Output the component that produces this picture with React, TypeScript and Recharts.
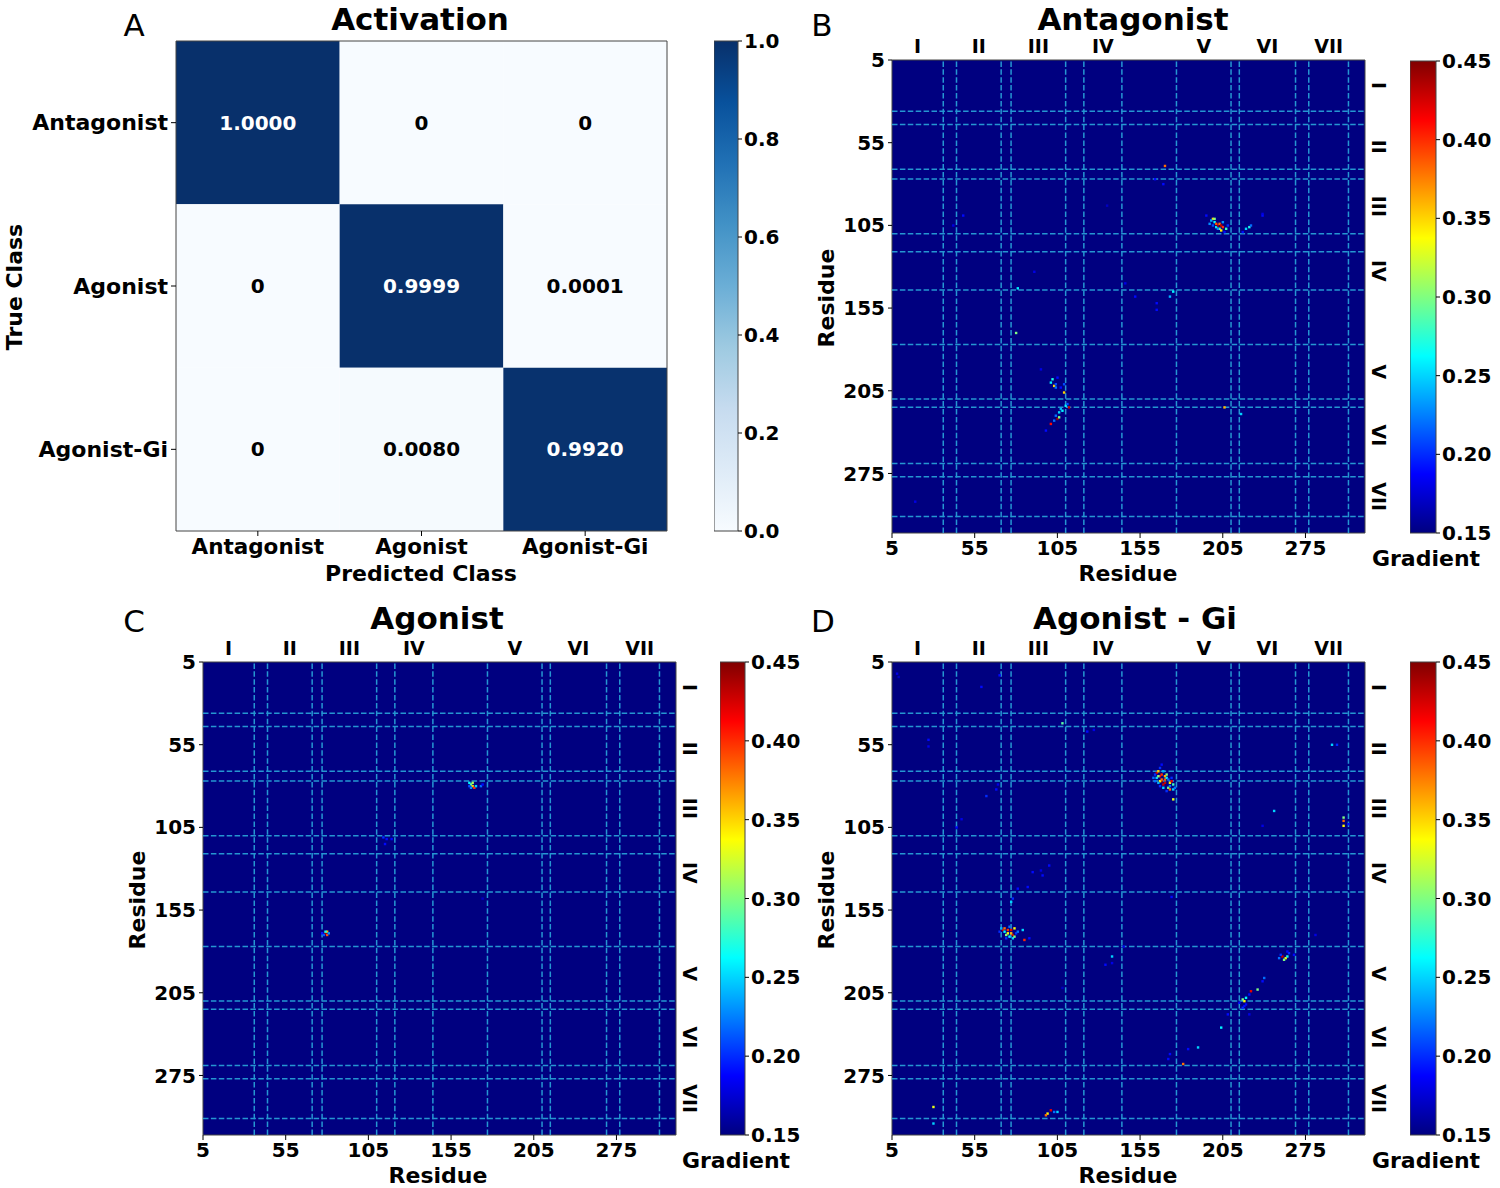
import React from 'react';
import { ComposedChart, XAxis, YAxis, ReferenceArea, ReferenceLine, Scatter } from 'recharts';

const FONT = "'DejaVu Sans', 'Liberation Sans', sans-serif";

// ---------- Panel A: confusion matrix ----------
const cmClasses = ['Antagonist', 'Agonist', 'Agonist-Gi'];
const cmRowAntagonist = [1.0, 0, 0];
const cmRowAgonist = [0, 0.9999, 0.0001];
const cmRowAgonistGi = [0, 0.008, 0.992];
const cmTicks = [0, 1, 2];
const cmBarTicks = [0, 0.2, 0.4, 0.6, 0.8, 1.0];

// ---------- Panels B-D: gradient maps ----------
const residueTicks = [0, 50, 100, 150, 200, 250];
const residueTickLabels = ['5', '55', '105', '155', '205', '275'];
const helixBoundaries = [31, 39, 66, 72, 105, 116, 139, 172, 205, 210, 244, 252, 276];
const helixCenters = [15.5, 52.5, 88.5, 127.5, 188.5, 227, 264];
const helixLabels = ['I', 'II', 'III', 'IV', 'V', 'VI', 'VII'];
const gradTicks = [0.15, 0.2, 0.25, 0.3, 0.35, 0.4, 0.45];

// [residue index x, residue index y, gradient]
const antagonistHot: number[][] = [
  [190, 94, 0.19], [192, 99, 0.23], [194, 96, 0.35], [195, 96, 0.3], [195, 98, 0.26], [196, 101, 0.26],
  [197, 100, 0.44], [198, 99, 0.38], [198, 102, 0.3], [199, 100, 0.43], [200, 101, 0.4], [201, 104, 0.19],
  [196, 99, 0.39], [197, 102, 0.23], [200, 98, 0.23], [202, 102, 0.28], [199, 103, 0.34], [193, 97, 0.24],
  [194, 100, 0.21], [203, 100, 0.2], [212, 104, 0.19], [214, 102, 0.25], [216, 101, 0.27], [217, 100, 0.22],
  [224, 94, 0.19],
  [97, 193, 0.27], [98, 197, 0.35], [96, 195, 0.26], [99, 196, 0.21], [100, 192, 0.19], [99, 198, 0.22],
  [104, 201, 0.35], [104, 196, 0.21], [102, 198, 0.19], [107, 210, 0.43], [103, 212, 0.26], [101, 213, 0.25],
  [100, 217, 0.44], [99, 215, 0.22], [96, 220, 0.41], [93, 224, 0.19], [105, 209, 0.26], [102, 211, 0.24],
  [106, 208, 0.21], [101, 216, 0.3], [98, 218, 0.22],
  [165, 64, 0.38], [164, 75, 0.19], [159, 72, 0.19], [170, 140, 0.26], [168, 143, 0.24], [160, 147, 0.19],
  [160, 151, 0.19], [141, 135, 0.18], [147, 143, 0.19], [75, 165, 0.3], [76, 138, 0.26], [86, 128, 0.18],
  [90, 187, 0.18], [43, 94, 0.19], [37, 100, 0.18], [14, 267, 0.18], [130, 88, 0.17], [201, 210, 0.36],
  [211, 214, 0.25], [224, 93, 0.18],
];

const agonistHot: number[][] = [
  [161, 73, 0.26], [162, 74, 0.29], [163, 75, 0.35], [164, 76, 0.4], [162, 76, 0.23], [165, 75, 0.25],
  [168, 75, 0.22], [169, 74, 0.19], [161, 75, 0.21], [163, 73, 0.31],
  [74, 164, 0.44], [75, 163, 0.36], [74, 163, 0.27], [72, 164, 0.19], [75, 165, 0.39], [76, 164, 0.23],
  [73, 165, 0.21],
  [109, 106, 0.2], [111, 107, 0.19], [114, 107, 0.19], [110, 110, 0.19], [169, 143, 0.17],
];

const agonistGiHot: number[][] = [
  [160, 67, 0.43], [162, 69, 0.42], [161, 66, 0.35], [163, 72, 0.44], [165, 71, 0.39], [164, 74, 0.43],
  [166, 70, 0.26], [168, 73, 0.34], [169, 72, 0.42], [167, 76, 0.3], [170, 77, 0.25], [162, 64, 0.2],
  [159, 68, 0.2], [160, 70, 0.25], [162, 72, 0.34], [166, 68, 0.3], [165, 73, 0.43], [163, 71, 0.38],
  [161, 69, 0.3], [164, 66, 0.24], [163, 68, 0.4], [167, 71, 0.22], [168, 75, 0.22], [170, 74, 0.28],
  [171, 76, 0.22], [164, 76, 0.25], [166, 78, 0.2], [170, 83, 0.33], [159, 72, 0.22], [158, 70, 0.22],
  [162, 75, 0.2], [165, 69, 0.36], [169, 70, 0.2], [168, 77, 0.38], [161, 73, 0.24], [163, 62, 0.19],
  [67, 162, 0.43], [68, 161, 0.38], [70, 164, 0.34], [72, 162, 0.42], [71, 166, 0.26], [73, 165, 0.43],
  [74, 161, 0.34], [75, 164, 0.2], [80, 168, 0.4], [69, 165, 0.3], [65, 163, 0.2], [73, 167, 0.25],
  [79, 162, 0.25], [83, 167, 0.19], [66, 161, 0.24], [70, 162, 0.4], [72, 164, 0.36], [71, 160, 0.22],
  [68, 163, 0.26], [74, 166, 0.3], [76, 163, 0.22], [69, 167, 0.2],
  [236, 178, 0.43], [238, 179, 0.34], [239, 178, 0.27], [235, 177, 0.2], [237, 180, 0.3], [240, 176, 0.2],
  [239, 175, 0.19], [243, 177, 0.19], [234, 179, 0.22],
  [225, 191, 0.22], [221, 198, 0.3], [217, 199, 0.42], [216, 201, 0.19], [214, 203, 0.26], [213, 205, 0.34],
  [212, 204, 0.3], [210, 206, 0.19], [214, 207, 0.19], [216, 213, 0.18], [203, 213, 0.19], [199, 221, 0.26],
  [212, 209, 0.2], [213, 208, 0.19], [224, 193, 0.19],
  [3, 7, 0.18], [4, 9, 0.17], [54, 15, 0.19], [65, 8, 0.19], [103, 37, 0.29], [118, 42, 0.19], [122, 41, 0.18],
  [22, 47, 0.19], [22, 51, 0.18], [57, 81, 0.2], [63, 77, 0.19], [64, 74, 0.18], [39, 100, 0.19], [42, 95, 0.18],
  [231, 90, 0.25], [224, 99, 0.18], [273, 94, 0.3], [273, 96, 0.38], [273, 99, 0.34], [276, 98, 0.19],
  [266, 50, 0.25], [269, 50, 0.2], [95, 123, 0.19], [91, 129, 0.19], [90, 126, 0.18], [85, 127, 0.19],
  [82, 136, 0.19], [76, 137, 0.19], [73, 143, 0.2], [72, 145, 0.25], [169, 142, 0.19], [129, 183, 0.19],
  [133, 178, 0.25], [133, 182, 0.18], [140, 172, 0.18], [103, 197, 0.17], [256, 165, 0.18], [185, 233, 0.25],
  [179, 234, 0.19], [168, 237, 0.19], [167, 240, 0.19], [176, 243, 0.38], [25, 269, 0.33], [25, 279, 0.25],
  [94, 273, 0.34], [96, 271, 0.42], [100, 272, 0.25], [93, 274, 0.38], [98, 272, 0.22],
];

// ---------- colour maps ----------
const BLUES = ['#f7fbff', '#deebf7', '#c6dbef', '#9ecae1', '#6baed6', '#4292c6', '#2171b5', '#08519c', '#08306b'];
const clamp = (v: number) => Math.max(0, Math.min(1, v));
const hexToRgb = (h: string) => [parseInt(h.slice(1, 3), 16), parseInt(h.slice(3, 5), 16), parseInt(h.slice(5, 7), 16)];
function blues(v: number) {
  const t = clamp(v) * (BLUES.length - 1);
  const i = Math.min(Math.floor(t), BLUES.length - 2);
  const f = t - i;
  const a = hexToRgb(BLUES[i]);
  const b = hexToRgb(BLUES[i + 1]);
  const c = a.map((x, k) => Math.round(x + (b[k] - x) * f));
  return `rgb(${c[0]},${c[1]},${c[2]})`;
}
function jet(t: number) {
  const x = clamp(t);
  const r = clamp(1.5 - Math.abs(4 * x - 3));
  const g = clamp(1.5 - Math.abs(4 * x - 2));
  const b = clamp(1.5 - Math.abs(4 * x - 1));
  return `rgb(${Math.round(r * 255)},${Math.round(g * 255)},${Math.round(b * 255)})`;
}
const jetOf = (v: number) => jet((v - 0.15) / 0.3);
const JET_STOPS = [0, 0.125, 0.25, 0.375, 0.5, 0.625, 0.75, 0.875, 1].map(jet);

const tickBold = (size: number) => ({ fontSize: size, fontWeight: 'bold', fill: '#000', fontFamily: FONT });
const DASH = '#2596d1';

const HotPixel = (props: any) => {
  const { cx, cy, payload } = props;
  if (cx == null || cy == null) return null;
  return <rect x={cx - 1.1} y={cy - 1.1} width={2.4} height={2.4} fill={jetOf(payload.v)} />;
};

const RomanRightTick = (props: any) => {
  const { x, y, payload } = props;
  const label = helixLabels[helixCenters.indexOf(payload.value)];
  return (
    <g transform={`translate(${x + 14},${y}) rotate(90)`}>
      <text x={0} y={7} textAnchor="middle" fontSize={19} fontWeight="bold" fontFamily={FONT} fill="#000">
        {label}
      </text>
    </g>
  );
};

function HeatPanel({ left, top, data }: { left: number; top: number; data: number[][] }) {
  const size = 473;
  const pts = data.map(([x, y, v]) => ({ x, y, v }));
  return (
    <div style={{ position: 'absolute', left: left - 80, top: top - 40 }}>
      <ComposedChart width={size + 120} height={size + 85} data={pts} margin={{ top: 0, right: 0, bottom: 0, left: 0 }}>
        <XAxis
          xAxisId={0} type="number" dataKey="x" domain={[0, 286]} allowDataOverflow ticks={residueTicks} interval={0}
          tickFormatter={(v: number) => residueTickLabels[residueTicks.indexOf(v)]}
          height={45} axisLine={false} tickSize={5} tickMargin={3} tickLine={{ stroke: '#000' }} tick={tickBold(20)}
        />
        <XAxis
          xAxisId="top" orientation="top" type="number" dataKey="x" domain={[0, 286]} allowDataOverflow ticks={helixCenters} interval={0}
          tickFormatter={(v: number) => helixLabels[helixCenters.indexOf(v)]}
          height={40} axisLine={false} tickLine={false} tickSize={0} tickMargin={7} tick={tickBold(19)}
        />
        <YAxis
          yAxisId={0} type="number" dataKey="y" domain={[0, 286]} allowDataOverflow reversed ticks={residueTicks} interval={0}
          tickFormatter={(v: number) => residueTickLabels[residueTicks.indexOf(v)]}
          width={80} axisLine={false} tickSize={4} tickMargin={3} tickLine={{ stroke: '#000' }} tick={tickBold(20)}
        />
        <YAxis
          yAxisId="right" orientation="right" type="number" dataKey="y" domain={[0, 286]} allowDataOverflow reversed ticks={helixCenters} interval={0}
          width={40} axisLine={false} tickLine={false} tickSize={0} tickMargin={0} tick={<RomanRightTick />}
        />
        <ReferenceArea x1={0} x2={286} y1={0} y2={286} fill="#000080" fillOpacity={1} stroke="#444" strokeWidth={1} />
        {helixBoundaries.map((b) => (
          <ReferenceLine key={'v' + b} x={b} stroke={DASH} strokeWidth={1.5} strokeDasharray="5.5 2.4" />
        ))}
        {helixBoundaries.map((b) => (
          <ReferenceLine key={'h' + b} y={b} stroke={DASH} strokeWidth={1.5} strokeDasharray="5.5 2.4" />
        ))}
        <Scatter data={pts} dataKey="y" isAnimationActive={false} shape={HotPixel} />
      </ComposedChart>
    </div>
  );
}

function ColorBar({
  id, left, top, width, height, domain, ticks, fmt, stops,
}: {
  id: string; left: number; top: number; width: number; height: number; domain: number[]; ticks: number[];
  fmt: (v: number) => string; stops: string[];
}) {
  const tickData = ticks.map((t) => ({ x: 0.5, y: t }));
  return (
    <div style={{ position: 'absolute', left, top: top - 15 }}>
      <ComposedChart width={width + 80} height={height + 30} data={tickData} margin={{ top: 15, right: 0, bottom: 15, left: 0 }}>
        <defs>
          <linearGradient id={id} x1="0" y1="1" x2="0" y2="0">
            {stops.map((c, i) => (
              <stop key={i} offset={i / (stops.length - 1)} stopColor={c} />
            ))}
          </linearGradient>
        </defs>
        <XAxis type="number" dataKey="x" domain={[0, 1]} hide />
        <YAxis
          type="number" dataKey="y" orientation="right" domain={domain} ticks={ticks} interval={0} tickFormatter={fmt}
          width={80} axisLine={false} tickSize={4} tickMargin={2} tickLine={{ stroke: '#000' }} tick={tickBold(20)}
        />
        <ReferenceArea x1={0} x2={1} y1={domain[0]} y2={domain[1]} fill={`url(#${id})`} fillOpacity={1} stroke="#444" strokeWidth={1} />
      </ComposedChart>
    </div>
  );
}

function ConfusionPanel() {
  const rows = [cmRowAntagonist, cmRowAgonist, cmRowAgonistGi];
  const cells = rows.flatMap((r, ri) => r.map((v, ci) => ({ row: ri, col: ci, v })));
  return (
    <div style={{ position: 'absolute', left: 0, top: 26 }}>
      <ComposedChart width={677} height={535} data={cells} margin={{ top: 15, right: 10, bottom: 0, left: 0 }}>
        <XAxis
          type="number" dataKey="col" domain={[-0.5, 2.5]} ticks={cmTicks} interval={0}
          tickFormatter={(v: number) => cmClasses[v]}
          height={30} axisLine={false} tickSize={5} tickMargin={3} tickLine={{ stroke: '#000' }} tick={tickBold(21.5)}
        />
        <YAxis
          type="number" dataKey="row" domain={[-0.5, 2.5]} reversed ticks={cmTicks} interval={0}
          tickFormatter={(v: number) => cmClasses[v]}
          width={176} axisLine={false} tickSize={5} tickMargin={3} tickLine={{ stroke: '#000' }} tick={tickBold(22)}
        />
        {cells.map((c) => (
          <ReferenceArea
            key={`${c.row}-${c.col}`}
            x1={c.col - 0.5} x2={c.col + 0.5} y1={c.row - 0.5} y2={c.row + 0.5}
            fill={blues(c.v)} fillOpacity={1} stroke="none"
            label={{
              value: c.v === 0 ? '0' : c.v.toFixed(4),
              position: 'center',
              fill: c.v > 0.5 ? '#ffffff' : '#000000',
              fontSize: 20,
              fontWeight: 'bold',
              fontFamily: FONT,
            }}
          />
        ))}
        <ReferenceArea x1={-0.5} x2={2.5} y1={-0.5} y2={2.5} fill="#fff" fillOpacity={0} stroke="#444" strokeWidth={1} />
      </ComposedChart>
    </div>
  );
}

const T = ({ x, y, children, size = 22, weight = 'bold', rotate = 0 }: any) => (
  <text
    transform={`translate(${x},${y}) rotate(${rotate})`}
    textAnchor="middle" fontSize={size} fontWeight={weight} fontFamily={FONT} fill="#000"
  >
    {children}
  </text>
);

export default function App() {
  return (
    <div style={{ position: 'absolute', left: 0, top: 0, width: 1500, height: 1188, background: '#fff', fontFamily: FONT }}>
      <ConfusionPanel />
      <ColorBar id="bluesBar" left={714} top={41} width={24} height={490} domain={[0, 1]} ticks={cmBarTicks}
        fmt={(v) => v.toFixed(1)} stops={BLUES} />

      <HeatPanel left={892} top={60} data={antagonistHot} />
      <ColorBar id="jetB" left={1410} top={61} width={26} height={472} domain={[0.15, 0.45]} ticks={gradTicks}
        fmt={(v) => v.toFixed(2)} stops={JET_STOPS} />

      <HeatPanel left={203} top={662} data={agonistHot} />
      <ColorBar id="jetC" left={720} top={662} width={25} height={473} domain={[0.15, 0.45]} ticks={gradTicks}
        fmt={(v) => v.toFixed(2)} stops={JET_STOPS} />

      <HeatPanel left={892} top={662} data={agonistGiHot} />
      <ColorBar id="jetD" left={1410} top={662} width={26} height={473} domain={[0.15, 0.45]} ticks={gradTicks}
        fmt={(v) => v.toFixed(2)} stops={JET_STOPS} />

      <svg width={1500} height={1188} style={{ position: 'absolute', left: 0, top: 0, pointerEvents: 'none' }}>
        <T x={134} y={36} size={31} weight="normal">A</T>
        <T x={822} y={36} size={31} weight="normal">B</T>
        <T x={134} y={632} size={31} weight="normal">C</T>
        <T x={823} y={632} size={31} weight="normal">D</T>

        <T x={420} y={30} size={31}>Activation</T>
        <T x={1133} y={30} size={31}>Antagonist</T>
        <T x={437} y={629} size={31}>Agonist</T>
        <T x={1135} y={629} size={31}>Agonist - Gi</T>

        <T x={22} y={287} rotate={-90}>True Class</T>
        <T x={421} y={581}>Predicted Class</T>

        <T x={1128} y={581}>Residue</T>
        <T x={834} y={298} rotate={-90}>Residue</T>
        <T x={1426} y={566}>Gradient</T>

        <T x={438} y={1183}>Residue</T>
        <T x={145} y={900} rotate={-90}>Residue</T>
        <T x={736} y={1168}>Gradient</T>

        <T x={1128} y={1183}>Residue</T>
        <T x={834} y={900} rotate={-90}>Residue</T>
        <T x={1426} y={1168}>Gradient</T>
      </svg>
    </div>
  );
}
